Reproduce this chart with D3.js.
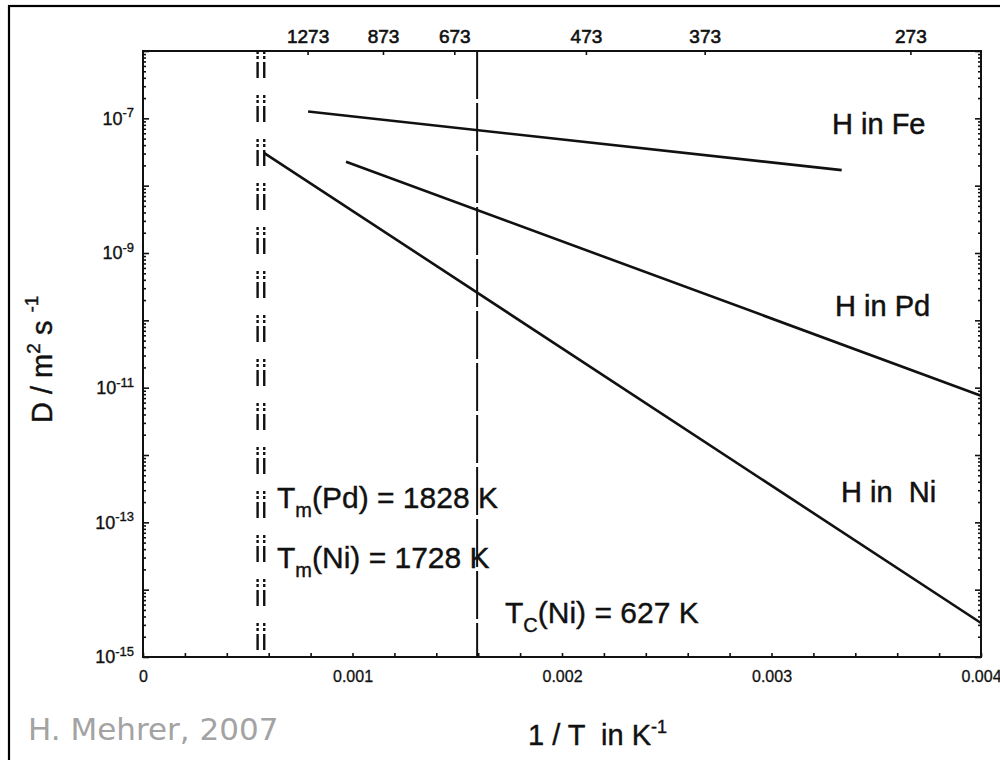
<!DOCTYPE html>
<html><head><meta charset="utf-8">
<script src="https://cdn.jsdelivr.net/npm/d3@7"></script>
<style>
body{margin:0;background:#fff}
text{font-family:"Liberation Sans",Arial,Helvetica,sans-serif;fill:#111}
</style></head><body>
<svg id="chart" width="1000" height="760"></svg>
<script>
// Hydrogen diffusion in metals: Arrhenius plot of log D against 1/T
const seriesNames = ["H in Fe", "H in Pd", "H in Ni"];
const invT_Fe = [0.000788, 0.003335];
const D_Fe = [1.26e-7, 1.7e-8];
const invT_Pd = [0.000969, 0.004];
const D_Pd = [2.27e-8, 7.6e-12];
const invT_Ni = [0.000579, 0.004];
const D_Ni = [3.05e-8, 3.2e-15];
const topTempsK = [1273, 873, 673, 473, 373, 273];
const bottomLabels = [0, 0.001, 0.002, 0.003, 0.004];
const yLabelExponents = [-7, -9, -11, -13, -15];
const meltPdK = 1828, meltNiK = 1728, curieNiK = 627;

const svg = d3.select("#chart");
const X0 = 143, X1 = 981, Y0 = 51, Y1 = 657;

const x = d3.scaleLinear().domain([0, 0.004]).range([X0, X1]);
const y = d3.scaleLog().domain([1e-15, 1e-6]).range([Y1, Y0]);

// outer frame
svg.append("rect").attr("x", 9).attr("y", 6).attr("width", 1010).attr("height", 780)
  .attr("fill", "none").attr("stroke", "#000").attr("stroke-width", 2.2);

// minor and major log ticks
const minorVals = [];
for (let k = -15; k <= -7; k++) for (let m = 2; m <= 9; m++) minorVals.push(m * Math.pow(10, k));
const decadeVals = d3.range(-15, -5).map(k => Math.pow(10, k));

function styleAxis(g) {
  g.select(".domain").remove();
  g.selectAll(".tick line").attr("stroke", "#111").attr("stroke-width", 1.6);
}

svg.append("g").attr("transform", `translate(${X0},0)`)
  .call(d3.axisLeft(y).tickValues(minorVals).tickSize(-3).tickFormat(""))
  .call(styleAxis);
const leftMajor = svg.append("g").attr("transform", `translate(${X0},0)`)
  .call(d3.axisLeft(y).tickValues(decadeVals).tickSize(-6).tickPadding(9)
    .tickFormat(v => yLabelExponents.includes(Math.round(Math.log10(v))) ? "x" : ""))
  .call(styleAxis);
leftMajor.selectAll(".tick text").each(function(v) {
  const t = d3.select(this);
  if (t.text() === "") return;
  const e = Math.round(Math.log10(v));
  t.text(null).attr("font-size", 18).attr("fill", "#111").attr("font-family", null)
    .attr("stroke", "#111").attr("stroke-width", 0.35);
  t.append("tspan").text("10");
  t.append("tspan").attr("dy", "-0.55em").attr("font-size", 13).text(String(e));
});

svg.append("g").attr("transform", `translate(${X1},0)`)
  .call(d3.axisRight(y).tickValues(minorVals).tickSize(-3).tickFormat(""))
  .call(styleAxis);
svg.append("g").attr("transform", `translate(${X1},0)`)
  .call(d3.axisRight(y).tickValues(decadeVals).tickSize(-6).tickFormat(""))
  .call(styleAxis);

// bottom axis, 1/T
const bottomTicks = d3.range(0, 21).map(i => i * 0.0002);
const bottomAxisG = svg.append("g").attr("transform", `translate(0,${Y1})`)
  .call(d3.axisBottom(x).tickValues(bottomTicks).tickSize(-4).tickPadding(14)
    .tickFormat(v => {
      const hit = bottomLabels.find(b => Math.abs(b - v) < 1e-9);
      return hit === undefined ? "" : (hit === 0 ? "0" : d3.format(".3f")(hit));
    }))
  .call(styleAxis);
bottomAxisG.selectAll(".tick text").attr("font-size", 16).attr("fill", "#111").attr("font-family", null)
  .attr("stroke", "#111").attr("stroke-width", 0.3);

// top axis, temperature in K
const topAxisG = svg.append("g").attr("transform", `translate(0,${Y0})`)
  .call(d3.axisTop(x).tickValues(topTempsK.map(t => 1 / t)).tickSize(-4).tickPadding(8)
    .tickFormat(v => String(Math.round(1 / v))))
  .call(styleAxis);
topAxisG.selectAll(".tick text").attr("font-size", 19).attr("fill", "#111").attr("font-family", null)
  .attr("stroke", "#111").attr("stroke-width", 0.6);

// plot box
svg.append("rect").attr("x", X0).attr("y", Y0).attr("width", X1 - X0).attr("height", Y1 - Y0)
  .attr("fill", "none").attr("stroke", "#111").attr("stroke-width", 2);

// melting points: paired dash-dot verticals
[meltPdK, meltNiK].forEach(T => {
  svg.append("line").attr("x1", x(1 / T)).attr("x2", x(1 / T)).attr("y1", Y0).attr("y2", Y1)
    .attr("stroke", "#111").attr("stroke-width", 2.4)
    .attr("stroke-dasharray", "3,2,3,3,16,17");
});
// Curie temperature of Ni
svg.append("line").attr("x1", x(1 / curieNiK)).attr("x2", x(1 / curieNiK)).attr("y1", Y0).attr("y2", Y1)
  .attr("stroke", "#111").attr("stroke-width", 2).attr("stroke-dasharray", "48,4");

// Arrhenius lines
const line = d3.line().x(d => x(d[0])).y(d => y(d[1]));
const data = [
  d3.zip(invT_Fe, D_Fe),
  d3.zip(invT_Pd, D_Pd),
  d3.zip(invT_Ni, D_Ni)
];
svg.selectAll("path.arr").data(data).join("path").attr("class", "arr")
  .attr("d", line).attr("fill", "none").attr("stroke", "#111").attr("stroke-width", 2.6);

// series labels
const labelPos = [[832, 134], [835, 316], [841, 502]];
const labelText = ["H in Fe", "H in Pd", "H in  Ni"];
labelText.forEach((s, i) => {
  svg.append("text").attr("x", labelPos[i][0]).attr("y", labelPos[i][1])
    .attr("font-size", 29).style("white-space", "pre").attr("stroke", "#111").attr("stroke-width", 0.5)
    .text(s);
});

// annotations with subscripts
function annot(xp, yp, main, sub, rest) {
  const t = svg.append("text").attr("x", xp).attr("y", yp).attr("font-size", 30)
    .attr("stroke", "#111").attr("stroke-width", 0.4);
  t.append("tspan").text(main);
  t.append("tspan").attr("font-size", 20).attr("dy", 9).text(sub);
  t.append("tspan").attr("dy", -9).text(rest);
}
annot(277, 508, "T", "m", `(Pd) = ${meltPdK} K`);
annot(277, 568, "T", "m", `(Ni) = ${meltNiK} K`);
annot(505, 623, "T", "C", `(Ni) = ${curieNiK} K`);

// axis titles
const xt = svg.append("text").attr("x", 528).attr("y", 745).attr("font-size", 29)
  .style("white-space", "pre").attr("stroke", "#111").attr("stroke-width", 0.4);
xt.append("tspan").text("1 / T  in K");
xt.append("tspan").attr("font-size", 18).attr("dy", -12).text("-1");

const yt = svg.append("text").attr("transform", "translate(52,423) rotate(-90)").attr("font-size", 29)
  .style("white-space", "pre").attr("stroke", "#111").attr("stroke-width", 0.4);
yt.append("tspan").text("D / m");
yt.append("tspan").attr("font-size", 19).attr("dy", -12).text("2");
yt.append("tspan").attr("dy", 12).text(" s ");
yt.append("tspan").attr("font-size", 19).attr("dy", -14).text("-1");

// credit
svg.append("text").attr("x", 28).attr("y", 740)
  .style("font-family", "'DejaVu Sans', Verdana, sans-serif").style("font-size", "31px")
  .style("fill", "#a3a3a3")
  .text("H. Mehrer, 2007");
</script>
</body></html>
